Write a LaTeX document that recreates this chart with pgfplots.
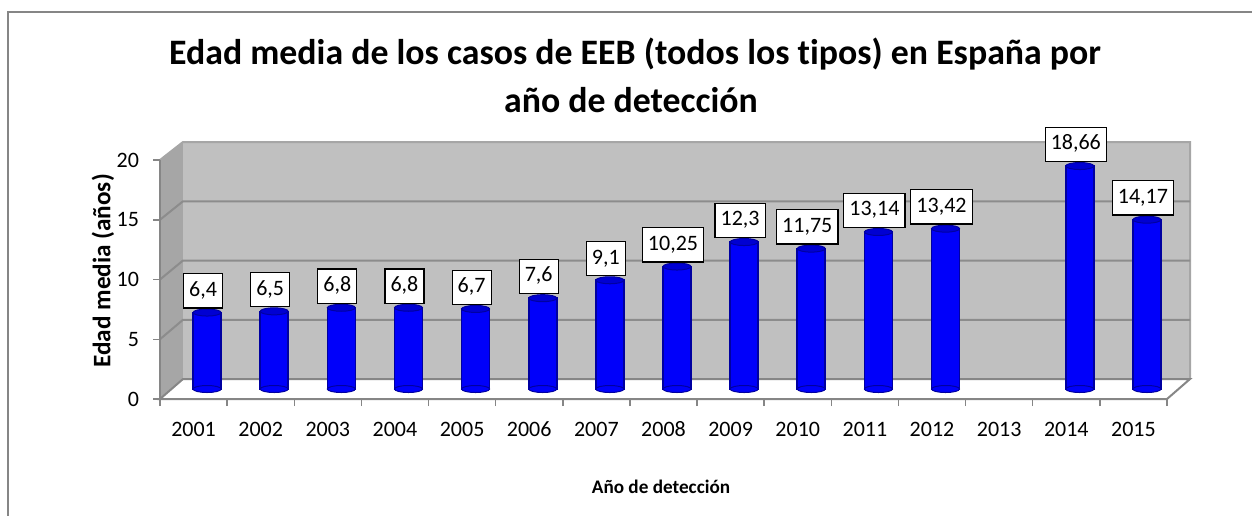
\documentclass[border=0pt]{standalone}
\usepackage{pgfplots}
\pgfplotsset{compat=1.18}
\usepackage{fontspec}
\setmainfont{Carlito}[Ligatures=NoCommon]
\definecolor{wall}{RGB}{192,192,192}
\definecolor{sidewall}{RGB}{166,166,166}
\definecolor{gridc}{RGB}{140,140,140}
\definecolor{axc}{RGB}{134,134,134}
\definecolor{barblue}{RGB}{0,0,250}
\definecolor{bardark}{RGB}{0,0,160}
\definecolor{bartop}{RGB}{0,0,210}
\begin{document}
\begin{tikzpicture}
\begin{scope}[x=0.5pt,y=-0.5pt]
\useasboundingbox (0,0) rectangle (1252,515);
\draw[axc, line width=0.75pt] (8,12) rectangle (1280,540);
% title
\node[font=\fontsize{17.9}{24}\selectfont\bfseries, anchor=base] at (635,64) {Edad media de los casos de EEB (todos los tipos) en España por};
\node[font=\fontsize{17.9}{24}\selectfont\bfseries, anchor=base] at (631,112) {año de detección};
% side wall and back wall
\fill[sidewall] (160,399) -- (160,160) -- (183,142) -- (183,379) -- cycle;
\fill[wall] (183,142) rectangle (1190,379);
\draw[gray!70, line width=1pt] (160,160) -- (183,142) -- (1190,142) -- (1190,379);
\foreach \k in {1,2,3} {
  \draw[gridc, line width=1pt] (160,{399-59.75*\k}) -- (183,{379-59.25*\k}) -- (1190,{379-59.25*\k});
}
% floor
\filldraw[fill=white, draw=axc, line width=1pt] (160,399) -- (1167,399) -- (1190,379) -- (183,379) -- cycle;
\coordinate (FA) at (160,399);
\coordinate (BA) at (173.5,389);
\end{scope}
% front axis
\begin{axis}[
  at={(FA)}, anchor=south west, scale only axis,
  width=503.5pt, height=119.5pt,
  xmin=0.5, xmax=15.5, ymin=0, ymax=20,
  axis x line*=bottom, axis y line*=left,
  axis line style={axc, line width=1pt, -},
  xtick={0.5,1.5,...,15.5}, x tick label as interval,
  xticklabels={2001,2002,2003,2004,2005,2006,2007,2008,2009,2010,2011,2012,2013,2014,2015},
  ytick={0,5,10,15,20},
  tick align=outside, major tick length=3.5pt,
  tick style={axc, line width=0.75pt},
  /pgf/number format/assume math mode=true,
  ticklabel style={font=\fontsize{11}{13}\selectfont},
  xticklabel style={anchor=north, yshift=-4pt, text height=7.5pt, text depth=0pt},
  yticklabel style={xshift=-3.5pt},
  every axis y label/.style={at={(axis description cs:-0.0566,0.536)}, rotate=90, anchor=center, font=\fontsize{12.6}{15}\selectfont\bfseries},
  every axis x label/.style={at={(axis description cs:0.4975,-0.368)}, anchor=center, font=\fontsize{9.6}{11}\selectfont\bfseries},
  ylabel={Edad media (años)},
  xlabel={Año de detección},
]
\end{axis}
% bars (mid depth)
\begin{axis}[
  at={(BA)}, anchor=south west, scale only axis,
  width=503.5pt, height=119.5pt,
  xmin=0.5, xmax=15.5, ymin=0, ymax=20,
  hide axis, clip=false,
]
\addplot[only marks, mark=*, mark size=7pt, mark options={yscale=0.25, fill=barblue, draw=bardark, line width=0.5pt}]
  coordinates {(1,0) (2,0) (3,0) (4,0) (5,0) (6,0) (7,0) (8,0) (9,0) (10,0) (11,0) (12,0) (14,0) (15,0)};
\addplot[ybar, bar width=14pt, bar shift=0pt, draw=bardark, line width=0.8pt, fill=barblue]
  coordinates {(1,6.4) (2,6.5) (3,6.8) (4,6.8) (5,6.7) (6,7.6) (7,9.1) (8,10.25) (9,12.3) (10,11.75) (11,13.14) (12,13.42) (14,18.66) (15,14.17)};
\addplot[only marks, mark=*, mark size=7pt, mark options={yscale=0.25, fill=bartop, draw=bardark, line width=0.5pt},
  point meta=explicit symbolic,
  nodes near coords,
  nodes near coords style={anchor=south, yshift=2pt, xshift=-2pt, fill=white, draw=black, line width=0.6pt,
    inner xsep=2.8pt, inner ysep=3.8pt, text height=7.5pt, text depth=2pt,
    font=\fontsize{11}{13}\selectfont, text=black}]
  table[meta=lab] {
x y lab
1 6.4 {6,4}
2 6.5 {6,5}
3 6.8 {6,8}
4 6.8 {6,8}
5 6.7 {6,7}
6 7.6 {7,6}
7 9.1 {9,1}
8 10.25 {10,25}
9 12.3 {12,3}
10 11.75 {11,75}
11 13.14 {13,14}
12 13.42 {13,42}
14 18.66 {18,66}
15 14.17 {14,17}
};
\end{axis}
\end{tikzpicture}
\end{document}
